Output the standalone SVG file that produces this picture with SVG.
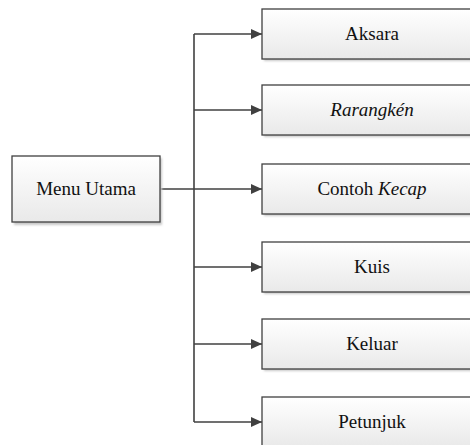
<svg xmlns="http://www.w3.org/2000/svg" width="470" height="445" viewBox="0 0 470 445">
<defs>
<linearGradient id="g" x1="0" y1="0" x2="0" y2="1">
<stop offset="0" stop-color="#ffffff"/>
<stop offset="1" stop-color="#e9e9e9"/>
</linearGradient>
<filter id="sh" x="-10%" y="-10%" width="130%" height="140%">
<feGaussianBlur stdDeviation="1"/>
</filter>
<marker id="ah" markerWidth="11" markerHeight="10" refX="11" refY="5" orient="auto" markerUnits="userSpaceOnUse">
<path d="M0,0 L11,5 L0,10 Z" fill="#404040"/>
</marker>
</defs>
<style>
.sh{fill:#c8c8c8;filter:url(#sh)}
.bx{fill:url(#g);stroke:#404040;stroke-width:1.3}
.t{font-family:"Liberation Serif","Times New Roman",serif;font-size:19px;fill:#111;text-anchor:middle}
.c{fill:none;stroke:#404040;stroke-width:1.6}
</style>
<rect width="470" height="445" fill="#ffffff"/>
<g id="connectors">
<path class="c" d="M160,189 H194"/>
<path class="c" d="M194,34 V422"/>
<path class="c" d="M194,34 H262" marker-end="url(#ah)"/>
<path class="c" d="M194,110 H262" marker-end="url(#ah)"/>
<path class="c" d="M194,189 H262" marker-end="url(#ah)"/>
<path class="c" d="M194,267 H262" marker-end="url(#ah)"/>
<path class="c" d="M194,344 H262" marker-end="url(#ah)"/>
<path class="c" d="M194,422 H262" marker-end="url(#ah)"/>
</g>
<g id="menu-utama">
<rect class="sh" x="14" y="158" width="148" height="67"/>
<rect class="bx" x="12" y="156" width="148" height="66"/>
<text class="t" x="86" y="195">Menu Utama</text>
</g>
<g id="aksara">
<rect class="sh" x="264" y="11" width="220" height="50"/>
<rect class="bx" x="262" y="9" width="220" height="50"/>
<text class="t" x="372" y="40">Aksara</text>
</g>
<g id="rarangken">
<rect class="sh" x="264" y="87" width="220" height="50"/>
<rect class="bx" x="262" y="85" width="220" height="50"/>
<text class="t" x="372" y="116" font-style="italic">Rarangkén</text>
</g>
<g id="contoh-kecap">
<rect class="sh" x="264" y="166" width="220" height="50"/>
<rect class="bx" x="262" y="164" width="220" height="50"/>
<text class="t" x="372" y="195">Contoh <tspan font-style="italic">Kecap</tspan></text>
</g>
<g id="kuis">
<rect class="sh" x="264" y="244" width="220" height="50"/>
<rect class="bx" x="262" y="242" width="220" height="50"/>
<text class="t" x="372" y="273">Kuis</text>
</g>
<g id="keluar">
<rect class="sh" x="264" y="321" width="220" height="50"/>
<rect class="bx" x="262" y="319" width="220" height="50"/>
<text class="t" x="372" y="350">Keluar</text>
</g>
<g id="petunjuk">
<rect class="sh" x="264" y="399" width="220" height="50"/>
<rect class="bx" x="262" y="397" width="220" height="50"/>
<text class="t" x="372" y="428">Petunjuk</text>
</g>
</svg>
